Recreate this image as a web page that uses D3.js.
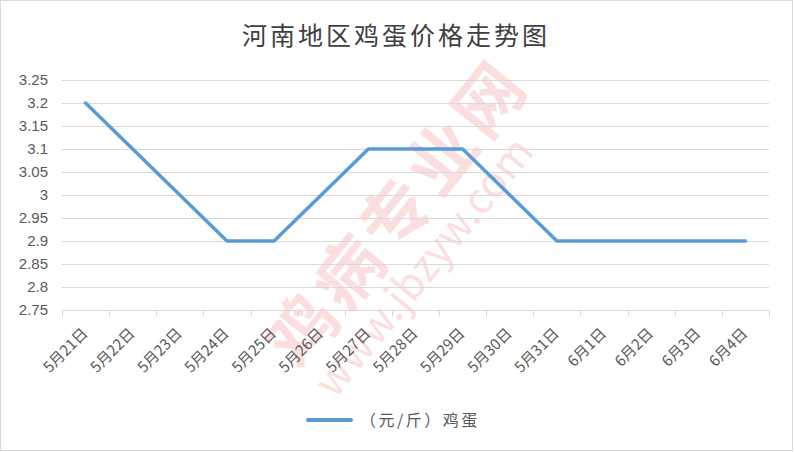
<!DOCTYPE html>
<html><head><meta charset="utf-8">
<script src="https://cdn.jsdelivr.net/npm/d3@7/dist/d3.min.js"></script>
<style>body{margin:0;background:#fff}svg{display:block}</style>
</head><body>
<script>
const title = "河南地区鸡蛋价格走势图";
const categories = ["5月21日","5月22日","5月23日","5月24日","5月25日","5月26日","5月27日","5月28日","5月29日","5月30日","5月31日","6月1日","6月2日","6月3日","6月4日"];
const seriesName = "（元/斤）鸡蛋";
const values = [3.2,3.1,3.0,2.9,2.9,3.0,3.1,3.1,3.1,3.0,2.9,2.9,2.9,2.9,2.9];
const yTicks = [2.75,2.8,2.85,2.9,2.95,3,3.05,3.1,3.15,3.2,3.25];

const W=794,H=452;
const svg=d3.select("body").append("svg").attr("width",W).attr("height",H);
svg.append("rect").attr("x",0.5).attr("y",0.5).attr("width",W-2).attr("height",H-2)
  .attr("fill","#fff").attr("stroke","#d9d9d9");

// watermark
const wm=svg.append("g").attr("opacity",0.15).attr("fill","#e8322e");
wm.append("text").attr("transform","translate(300,372) rotate(-51)")
  .attr("font-family","Noto Sans CJK SC").attr("font-weight","bold").attr("font-size",68)
  .attr("letter-spacing",6).text("鸡病专业网");
wm.append("text").attr("transform","translate(335,400) rotate(-51)")
  .attr("font-family","Noto Sans CJK SC").attr("font-size",42).text("www.jbzyw.com");

const x=d3.scaleBand().domain(categories).range([62,769]);
const y=d3.scaleLinear().domain([2.75,3.25]).range([310,80]);

svg.append("text").attr("x",396).attr("y",45).attr("text-anchor","middle")
  .attr("font-family","Noto Sans CJK SC").attr("font-size",25).attr("letter-spacing",3)
  .attr("fill","#404040").text(title);

// grid
svg.append("g").selectAll("line").data(yTicks.slice(1)).join("line")
  .attr("x1",62).attr("x2",769).attr("y1",d=>Math.round(y(d))+0.5).attr("y2",d=>Math.round(y(d))+0.5)
  .attr("stroke","#d9d9d9");

// y axis labels
const ya=svg.append("g").attr("transform","translate(62,0)")
  .call(d3.axisLeft(y).tickValues(yTicks).tickSize(0).tickPadding(14).tickFormat(d=>String(+d.toFixed(2))));
ya.select(".domain").remove();
ya.selectAll("text").attr("font-family","Liberation Sans, Arial").attr("font-size",15).attr("fill","#595959");

// x axis
const xa=svg.append("g").attr("transform","translate(0,"+(Math.round(y(2.75))+0.5)+")");
xa.append("line").attr("x1",62).attr("x2",769).attr("stroke","#d9d9d9");
const ticks=categories.map(c=>x(c)).concat([769]);
xa.selectAll("line.t").data(ticks).join("line").attr("class","t")
  .attr("x1",d=>Math.round(d)+0.5).attr("x2",d=>Math.round(d)+0.5).attr("y1",0).attr("y2",6).attr("stroke","#d9d9d9");
xa.selectAll("text").data(categories).join("text")
  .attr("transform",d=>"translate("+(x(d)+x.bandwidth()/2+3)+",24) rotate(-45)")
  .attr("text-anchor","end")
  .attr("font-family","Noto Sans CJK SC").attr("font-size",15).attr("fill","#595959").text(d=>d);

// line
const line=d3.line().x((d,i)=>x(categories[i])+x.bandwidth()/2).y(d=>y(d));
svg.append("path").datum(values).attr("d",line).attr("fill","none")
  .attr("stroke","#5b9bd5").attr("stroke-width",3.5).attr("stroke-linejoin","round").attr("stroke-linecap","round");

// legend
svg.append("line").attr("x1",308).attr("x2",351).attr("y1",420).attr("y2",420)
  .attr("stroke","#5b9bd5").attr("stroke-width",4).attr("stroke-linecap","round");
svg.append("text").attr("x",360).attr("y",420).attr("dy","0.36em")
  .attr("font-family","Noto Sans CJK SC").attr("font-size",16).attr("letter-spacing",2.5)
  .attr("fill","#595959").text(seriesName);
</script>
</body></html>
